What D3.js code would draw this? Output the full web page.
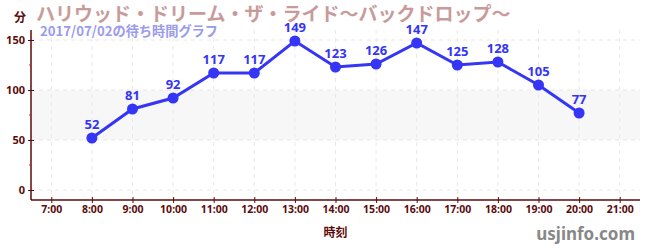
<!DOCTYPE html>
<html>
<head>
<meta charset="utf-8">
<script src="https://cdn.jsdelivr.net/npm/d3@7"></script>
<style>
  body { margin: 0; background: #fff; }
  svg { display: block; font-family: 'Noto Sans CJK JP', 'Noto Sans', sans-serif; }
</style>
</head>
<body>
<div id="chart"></div>
<script>
// data
var hours = [8, 9, 10, 11, 12, 13, 14, 15, 16, 17, 18, 19, 20]
var waits = [52, 81, 92, 117, 117, 149, 123, 126, 147, 125, 128, 105, 77]
var xTicks = [7, 8, 9, 10, 11, 12, 13, 14, 15, 16, 17, 18, 19, 20, 21]
var yTicks = [0, 50, 100, 150]
var yMinor = [25, 75, 125]
var title = 'ハリウッド・ドリーム・ザ・ライド～バックドロップ～'
var subtitle = '2017/07/02の待ち時間グラフ'

var width = 650, height = 250
var axisColor = '#5c0b0b'
var lineColor = '#3535f5'

var svg = d3.select('#chart').append('svg')
    .attr('width', width)
    .attr('height', height)

var x = d3.scaleLinear().domain([6.5, 21.5]).range([31, 640])
var y = d3.scaleLinear().domain([-10, 160]).range([200, 30])

// comfortable band 50-100
svg.append('rect')
    .attr('x', x(6.5))
    .attr('y', y(100))
    .attr('width', x(21.5) - x(6.5))
    .attr('height', y(50) - y(100))
    .attr('fill', '#f7f7f7')

// grid
svg.append('g').selectAll('line')
    .data(xTicks)
  .enter().append('line')
    .attr('x1', function(d) { return x(d) })
    .attr('x2', function(d) { return x(d) })
    .attr('y1', y(160))
    .attr('y2', y(-10))
    .attr('stroke', '#e8e8e8')
    .attr('stroke-dasharray', '4,4')

svg.append('g').selectAll('line')
    .data(yTicks)
  .enter().append('line')
    .attr('x1', x(6.5))
    .attr('x2', x(21.5))
    .attr('y1', function(d) { return y(d) })
    .attr('y2', function(d) { return y(d) })
    .attr('stroke', '#e8e8e8')
    .attr('stroke-dasharray', '4,4')

// y axis
var yAxis = svg.append('g')
    .attr('transform', 'translate(' + x(6.5) + ',0)')
    .call(d3.axisLeft(y).tickValues(yTicks).tickSize(3).tickPadding(3))
yAxis.select('.domain').attr('stroke', axisColor).attr('stroke-width', 1.5).attr('d', 'M0,' + y(160) + 'V' + y(-10))
yAxis.selectAll('.tick line').attr('stroke', axisColor).attr('x2', 3).attr('x1', -3)
yAxis.selectAll('text')
    .attr('fill', axisColor)
    .attr('font-size', 11)
    .attr('font-weight', 'bold')
    .attr('font-family', 'Noto Sans')

svg.append('g').selectAll('line')
    .data(yMinor)
  .enter().append('line')
    .attr('x1', x(6.5) - 2)
    .attr('x2', x(6.5))
    .attr('y1', function(d) { return y(d) })
    .attr('y2', function(d) { return y(d) })
    .attr('stroke', '#e02020')

// x axis
var xAxis = svg.append('g')
    .attr('transform', 'translate(0,' + y(-10) + ')')
    .call(d3.axisBottom(x).tickValues(xTicks).tickSize(4).tickPadding(2)
      .tickFormat(function(d) { return d + ':00' }))
xAxis.select('.domain').attr('stroke', axisColor).attr('stroke-width', 1.5).attr('d', 'M' + x(6.5) + ',0H' + x(21.5))
xAxis.selectAll('.tick line').attr('stroke', axisColor).attr('y1', -3).attr('y2', 3)
xAxis.selectAll('text')
    .attr('fill', axisColor)
    .attr('font-size', 10.5)
    .attr('font-weight', 'bold')
    .attr('font-family', 'Noto Sans')

svg.append('text')
    .attr('x', (x(6.5) + x(21.5)) / 2)
    .attr('y', 237)
    .attr('text-anchor', 'middle')
    .attr('fill', axisColor)
    .attr('font-size', 12)
    .attr('font-weight', 'bold')
    .text('時刻')

svg.append('text')
    .attr('x', 14)
    .attr('y', 22)
    .attr('fill', axisColor)
    .attr('font-size', 12)
    .attr('font-weight', 'bold')
    .text('分')

// line + dots
var pts = hours.map(function(h, i) { return {h: h, v: waits[i]} })

svg.append('path')
    .datum(pts)
    .attr('fill', 'none')
    .attr('stroke', lineColor)
    .attr('stroke-width', 3)
    .attr('d', d3.line().x(function(d) { return x(d.h) }).y(function(d) { return y(d.v) }))

svg.append('g').selectAll('circle')
    .data(pts)
  .enter().append('circle')
    .attr('cx', function(d) { return x(d.h) })
    .attr('cy', function(d) { return y(d.v) })
    .attr('r', 5.5)
    .attr('fill', lineColor)

svg.append('g').selectAll('text')
    .data(pts)
  .enter().append('text')
    .attr('x', function(d) { return x(d.h) })
    .attr('y', function(d) { return y(d.v) - 9 })
    .attr('text-anchor', 'middle')
    .attr('fill', lineColor)
    .attr('font-size', 13)
    .attr('font-weight', 'bold')
    .attr('font-family', 'Noto Sans')
    .text(function(d) { return d.v })

// titles
svg.append('text')
    .attr('x', 36)
    .attr('y', 21)
    .attr('fill', '#c99a9a')
    .attr('font-size', 19)
    .attr('font-weight', 'bold')
    .text(title)

svg.append('text')
    .attr('x', 40)
    .attr('y', 36)
    .attr('fill', '#9a9aee')
    .attr('font-size', 13.2)
    .attr('font-weight', 'bold')
    .text(subtitle)

svg.append('text')
    .attr('x', 635)
    .attr('y', 240)
    .attr('text-anchor', 'end')
    .attr('fill', '#888')
    .attr('font-size', 17)
    .attr('font-weight', 'bold')
    .attr('font-family', 'Noto Sans')
    .text('usjinfo.com')
</script>
</body>
</html>
